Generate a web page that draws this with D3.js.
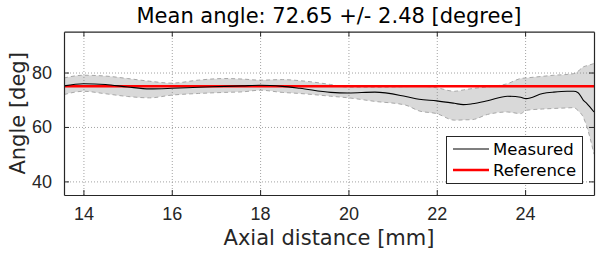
<!DOCTYPE html>
<html>
<head>
<meta charset="utf-8">
<script src="https://cdn.jsdelivr.net/npm/d3@7"></script>
<style>
  body { margin: 0; background: #fff; }
  svg { display: block; font-family: "DejaVu Sans", sans-serif; }
</style>
</head>
<body>
<svg id="chart"></svg>
<script>
// axial distance [mm] and the angle readings [deg]
const distance = [13.56, 14.0, 14.5, 15.0, 15.5, 16.0, 16.6, 17.2, 17.6, 18.0, 18.5, 18.9, 19.6, 20.0, 20.6, 21.3, 21.6, 22.0, 22.4, 22.6, 22.8, 23.15, 23.6, 23.9, 24.02, 24.4, 24.65, 24.95, 25.1, 25.2, 25.32, 25.4, 25.56];
const measured = [75.1, 75.9, 75.6, 74.7, 74.0, 74.2, 74.6, 74.9, 75.1, 75.3, 74.9, 74.2, 72.7, 72.5, 72.8, 71.2, 70.2, 69.6, 68.7, 68.2, 68.5, 69.6, 71.3, 70.9, 70.4, 72.3, 72.8, 73.1, 73.1, 72.6, 69.8, 68.6, 65.5];
const upper = [78.0, 79.0, 78.7, 77.8, 76.8, 76.1, 77.2, 77.8, 77.6, 77.2, 77.4, 77.0, 75.6, 74.6, 74.6, 74.8, 75.0, 74.4, 73.1, 73.6, 74.1, 74.7, 75.9, 77.8, 78.0, 78.6, 79.0, 79.3, 79.6, 80.5, 82.1, 82.5, 83.3];
const lower = [71.9, 73.1, 72.2, 71.2, 70.7, 71.7, 72.3, 72.7, 72.9, 73.5, 72.7, 72.3, 71.3, 70.7, 69.4, 68.0, 65.9, 64.9, 62.5, 62.6, 62.7, 64.6, 65.5, 64.9, 66.1, 66.6, 66.8, 67.0, 67.1, 66.0, 63.5, 60.0, 50.0];
const referenceAngle = 75;
const xTicks = [14, 16, 18, 20, 22, 24];
const yTicks = [40, 60, 80];
const titleText = "Mean angle: 72.65 +/- 2.48 [degree]";

const W = 596, H = 253;
const m = {left: 64, right: 594, top: 31.7, bottom: 195};
const ink = "#262626";

const svg = d3.select("#chart").attr("width", W).attr("height", H);

const x = d3.scaleLinear().domain([13.56, 25.56]).range([m.left, m.right]);
const y = d3.scaleLinear().domain([35, 95]).range([m.bottom, m.top]);

const rows = distance.map((d, i) => ({d: d, m: measured[i], u: upper[i], l: lower[i]}));

// shaded band
svg.append("path")
    .attr("d", d3.area().x(r => x(r.d)).y0(r => y(r.l)).y1(r => y(r.u)).curve(d3.curveMonotoneX)(rows))
    .attr("fill", "#d9d9d9");
// dashed band edges
["u", "l"].forEach(k => {
    svg.append("path")
        .attr("d", d3.line().x(r => x(r.d)).y(r => y(r[k])).curve(d3.curveMonotoneX)(rows))
        .attr("fill", "none")
        .attr("stroke", "#a8a8a8")
        .attr("stroke-width", 1)
        .attr("stroke-dasharray", "4,3");
});

// grid
svg.append("g")
    .attr("transform", `translate(0,${m.bottom})`)
    .call(d3.axisBottom(x).tickValues(xTicks).tickSize(-(m.bottom - m.top)).tickFormat(""))
    .call(g => g.select(".domain").remove())
    .selectAll("line").attr("stroke", "#8c8c8c").attr("stroke-dasharray", "1,2").attr("stroke-width", 0.8);
svg.append("g")
    .attr("transform", `translate(${m.left},0)`)
    .call(d3.axisLeft(y).tickValues(yTicks).tickSize(-(m.right - m.left)).tickFormat(""))
    .call(g => g.select(".domain").remove())
    .selectAll("line").attr("stroke", "#8c8c8c").attr("stroke-dasharray", "1,2").attr("stroke-width", 0.8);

// reference and measured lines
svg.append("line")
    .attr("x1", m.left).attr("x2", m.right)
    .attr("y1", y(referenceAngle)).attr("y2", y(referenceAngle))
    .attr("stroke", "#ff0000").attr("stroke-width", 2.5);
svg.append("path")
    .attr("d", d3.line().x(r => x(r.d)).y(r => y(r.m)).curve(d3.curveMonotoneX)(rows))
    .attr("fill", "none")
    .attr("stroke", "#000")
    .attr("stroke-width", 1.1);

// axes, ticks pointing inward on all four sides
const styleAxis = g => {
    g.select(".domain").attr("stroke", ink).attr("stroke-width", 1.2);
    g.selectAll(".tick line").attr("stroke", ink);
    g.selectAll(".tick text").attr("fill", ink).style("font-size", "18px");
};
svg.append("g")
    .attr("transform", `translate(0,${m.bottom})`)
    .call(d3.axisBottom(x).tickValues(xTicks).tickSize(-5).tickSizeOuter(0).tickPadding(12))
    .call(styleAxis);
svg.append("g")
    .attr("transform", `translate(0,${m.top})`)
    .call(d3.axisTop(x).tickValues(xTicks).tickSize(-5).tickSizeOuter(0).tickFormat(""))
    .call(styleAxis);
svg.append("g")
    .attr("transform", `translate(${m.left},0)`)
    .call(d3.axisLeft(y).tickValues(yTicks).tickSize(-5).tickSizeOuter(0).tickPadding(12))
    .call(styleAxis);
svg.append("g")
    .attr("transform", `translate(${m.right},0)`)
    .call(d3.axisRight(y).tickValues(yTicks).tickSize(-5).tickSizeOuter(0).tickFormat(""))
    .call(styleAxis);

// title and labels
svg.append("text")
    .attr("x", (m.left + m.right) / 2).attr("y", 23)
    .attr("text-anchor", "middle")
    .attr("fill", "#000")
    .style("font-size", "21px")
    .text(titleText);
svg.append("text")
    .attr("x", (m.left + m.right) / 2).attr("y", 245)
    .attr("text-anchor", "middle")
    .attr("fill", ink)
    .style("font-size", "21px")
    .text("Axial distance [mm]");
svg.append("text")
    .attr("transform", `translate(24.5,${(m.top + m.bottom) / 2}) rotate(-90)`)
    .attr("text-anchor", "middle")
    .attr("fill", ink)
    .style("font-size", "21px")
    .text("Angle [deg]");

// legend
const legend = svg.append("g");
legend.append("rect")
    .attr("x", 446.5).attr("y", 136.5).attr("width", 136).attr("height", 47)
    .attr("fill", "#fff").attr("stroke", ink).attr("stroke-width", 1);
const legendItems = [
    {name: "Measured", color: "#000", width: 1.1},
    {name: "Reference", color: "#ff0000", width: 2.5}
];
legendItems.forEach((it, i) => {
    const ly = 149 + i * 21;
    legend.append("line")
        .attr("x1", 453).attr("x2", 489).attr("y1", ly).attr("y2", ly)
        .attr("stroke", it.color).attr("stroke-width", it.width);
    legend.append("text")
        .attr("x", 493).attr("y", ly).attr("dy", "0.36em")
        .attr("fill", "#000")
        .style("font-size", "16.5px")
        .text(it.name);
});
</script>
</body>
</html>
